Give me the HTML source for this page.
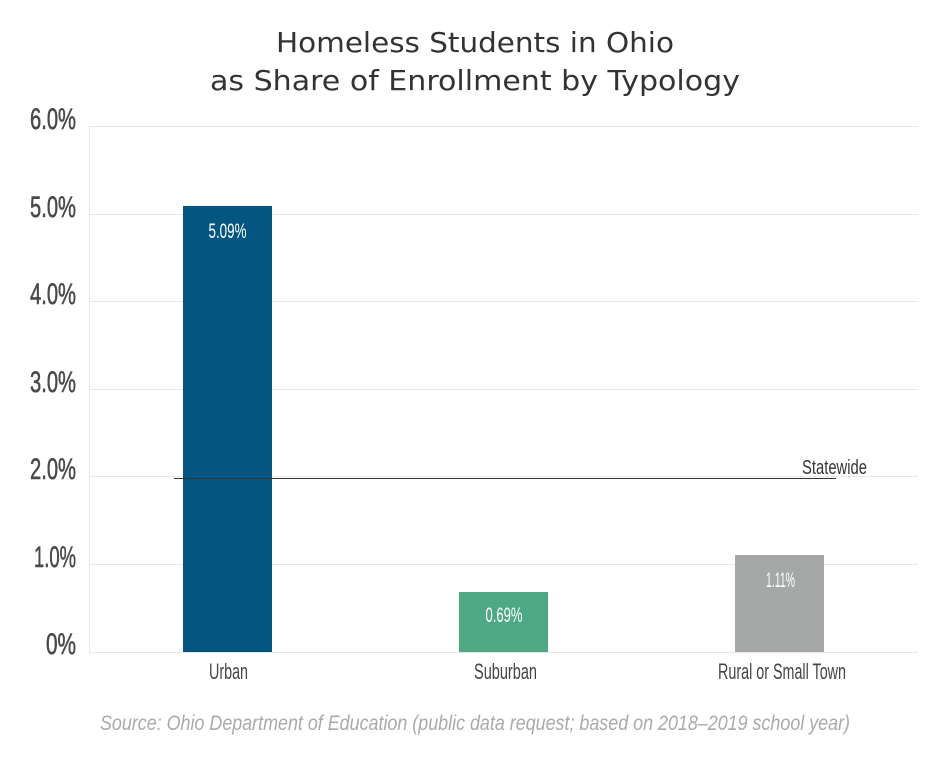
<!DOCTYPE html>
<html>
<head>
<meta charset="utf-8">
<style>
html,body{margin:0;padding:0;background:#fff;}
svg{display:block;}
.t{font-family:"DejaVu Sans","Liberation Sans",sans-serif;fill:#333;}
.c{font-family:"Liberation Sans Narrow","Liberation Sans",sans-serif;}
</style>
</head>
<body>
<svg width="950" height="758" viewBox="0 0 950 758" xmlns="http://www.w3.org/2000/svg">
<rect width="950" height="758" fill="#fff"/>
<!-- title -->
<text class="t" x="475" y="52" font-size="28" text-anchor="middle" textLength="398" lengthAdjust="spacingAndGlyphs">Homeless Students in Ohio</text>
<text class="t" x="475" y="90" font-size="28" text-anchor="middle" textLength="530" lengthAdjust="spacingAndGlyphs">as Share of Enrollment by Typology</text>
<!-- gridlines -->
<g stroke="#e8e8e8" stroke-width="1">
<line x1="89" y1="126.5" x2="918" y2="126.5"/>
<line x1="89" y1="214.5" x2="918" y2="214.5"/>
<line x1="89" y1="301.5" x2="918" y2="301.5"/>
<line x1="89" y1="389.5" x2="918" y2="389.5"/>
<line x1="89" y1="476.5" x2="918" y2="476.5"/>
<line x1="89" y1="564.5" x2="918" y2="564.5"/>
<line x1="89" y1="652.5" x2="918" y2="652.5"/>
<line x1="89.5" y1="126" x2="89.5" y2="652"/>
</g>
<!-- y labels -->
<g class="c" font-size="30" fill="#4a4a4a" stroke="#4a4a4a" stroke-width="0.6" text-anchor="end">
<text x="76" y="129" textLength="46" lengthAdjust="spacingAndGlyphs">6.0%</text>
<text x="76" y="217" textLength="46" lengthAdjust="spacingAndGlyphs">5.0%</text>
<text x="76" y="304" textLength="46" lengthAdjust="spacingAndGlyphs">4.0%</text>
<text x="76" y="392" textLength="46" lengthAdjust="spacingAndGlyphs">3.0%</text>
<text x="76" y="479" textLength="46" lengthAdjust="spacingAndGlyphs">2.0%</text>
<text x="76" y="567" textLength="42" lengthAdjust="spacingAndGlyphs">1.0%</text>
<text x="76" y="654" textLength="30" lengthAdjust="spacingAndGlyphs">0%</text>
</g>
<!-- bars -->
<rect x="183" y="206" width="89" height="446" fill="#04557f"/>
<rect x="459" y="592" width="89" height="60" fill="#4ea883"/>
<rect x="735" y="555" width="89" height="97" fill="#a5a8a7"/>
<!-- bar labels -->
<g class="c" font-size="21" fill="#fff" text-anchor="middle">
<text x="227.5" y="238" textLength="38" lengthAdjust="spacingAndGlyphs">5.09%</text>
<text x="504" y="622" textLength="37" lengthAdjust="spacingAndGlyphs">0.69%</text>
<text x="780.5" y="587" textLength="29" lengthAdjust="spacingAndGlyphs">1.11%</text>
</g>
<!-- statewide -->
<line x1="174" y1="478.5" x2="836" y2="478.5" stroke="#333" stroke-width="1"/>
<text class="c" x="802" y="474" font-size="20" fill="#333" textLength="65" lengthAdjust="spacingAndGlyphs">Statewide</text>
<!-- categories -->
<g class="c" font-size="22" fill="#444" text-anchor="middle">
<text x="228.5" y="679" textLength="39" lengthAdjust="spacingAndGlyphs">Urban</text>
<text x="505.5" y="679" textLength="63" lengthAdjust="spacingAndGlyphs">Suburban</text>
<text x="782" y="679" textLength="128" lengthAdjust="spacingAndGlyphs">Rural or Small Town</text>
</g>
<!-- source -->
<text class="c" x="100" y="730" font-size="21" fill="#aaa" font-style="italic" textLength="750" lengthAdjust="spacingAndGlyphs">Source: Ohio Department of Education (public data request; based on 2018–2019 school year)</text>
</svg>
</body>
</html>
